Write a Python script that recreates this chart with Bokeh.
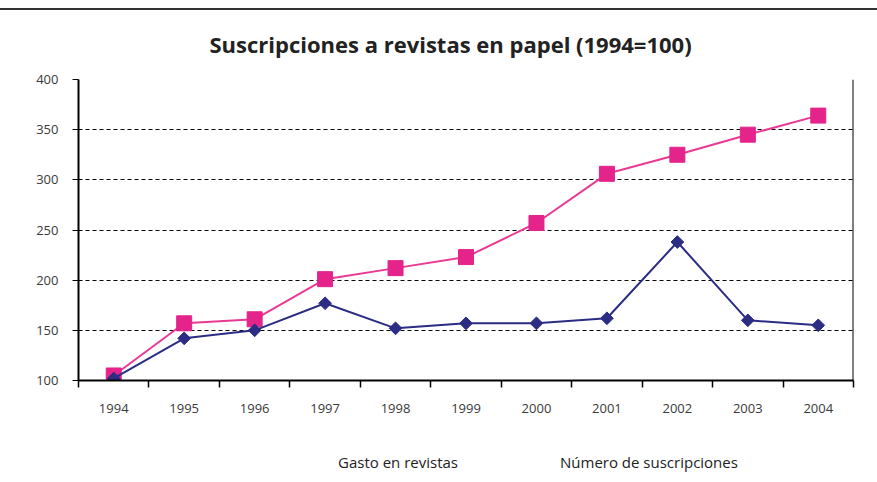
import math
from bokeh.plotting import figure
from bokeh.models import Range1d, FixedTicker, Legend, LegendItem, Span
from bokeh.layouts import column
from bokeh.embed import file_html
from bokeh.resources import INLINE

years = ["1994", "1995", "1996", "1997", "1998", "1999", "2000", "2001", "2002", "2003", "2004"]
gasto = [105, 157, 161, 201, 212, 223, 257, 306, 325, 345, 364]
numero = [102, 142, 150, 177, 152, 157, 157, 162, 238, 160, 155]
y_ticks = [100, 150, 200, 250, 300, 350, 400]
series_names = ["Gasto en revistas", "Número de suscripciones"]

PINK = "#e4238b"
PINK_LINE = "#e83a92"
NAVY = "#2b2d84"
FONT = "Open Sans"

n = len(years)
xs = [i + 0.5 for i in range(n)]

p = figure(width=877, height=413, output_backend="svg", toolbar_location=None,
           x_range=Range1d(0, n), y_range=Range1d(100, 400),
           frame_width=775, frame_height=301,
           min_border_left=78, min_border_right=24, min_border_top=10, min_border_bottom=42)
p.outline_line_color = None
p.background_fill_color = "white"

p.title.text = "Suscripciones a revistas en papel (1994=100)"
p.title.align = "left"
p.title.vertical_align = "top"
p.title.text_font = FONT
p.title.text_font_size = "22px"
p.title.text_font_style = "bold"
p.title.text_color = "#222222"
p.title.offset = 131
p.title.standoff = 37

# x axis: labels at category centres, ticks at category boundaries
xa = p.xaxis[0]
xa.ticker = FixedTicker(ticks=xs, minor_ticks=list(range(n + 1)))
xa.major_label_overrides = {x: y for x, y in zip(xs, years)}
xa.major_tick_line_color = None
xa.major_tick_out = 0
xa.major_tick_in = 0
xa.minor_tick_line_color = "black"
xa.minor_tick_line_width = 1.5
xa.minor_tick_out = 7
xa.minor_tick_in = 0
xa.axis_line_color = "black"
xa.axis_line_width = 2
xa.major_label_standoff = 16
xa.major_label_text_font = FONT
xa.major_label_text_font_size = "13px"
xa.major_label_text_color = "#3a3a3a"

ya = p.yaxis[0]
ya.ticker = FixedTicker(ticks=y_ticks)
ya.major_tick_line_color = "black"
ya.major_tick_out = 6
ya.major_tick_in = 0
ya.minor_tick_line_color = None
ya.axis_line_color = "black"
ya.axis_line_width = 2
ya.major_label_standoff = 14
ya.major_label_text_font = FONT
ya.major_label_text_font_size = "13px"
ya.major_label_text_color = "#3a3a3a"

# right border line of the plot area
p.add_layout(Span(location=n, dimension="height", line_color="black", line_width=2))

p.xgrid.grid_line_color = None
p.ygrid.ticker = FixedTicker(ticks=y_ticks[1:])
p.ygrid.grid_line_color = "black"
p.ygrid.grid_line_dash = "4 3"
p.ygrid.grid_line_width = 1

p.line(xs, gasto, line_color=PINK_LINE, line_width=2)
p.scatter(xs, gasto, marker="square", size=15, fill_color=PINK, line_color=PINK)
p.line(xs, numero, line_color=NAVY, line_width=2)
p.scatter(xs, numero, marker="square", size=9, angle=math.pi / 4,
          fill_color=NAVY, line_color=NAVY)

# legend strip below the chart (key glyphs only, no data drawn)
lg = figure(width=877, height=60, output_backend="svg", toolbar_location=None,
            x_range=Range1d(0, 1), y_range=Range1d(0, 1),
            x_axis_type=None, y_axis_type=None,
            min_border_left=0, min_border_right=0, min_border_top=0, min_border_bottom=0)
lg.outline_line_color = None
k1l = lg.line([], [], line_color=PINK_LINE, line_width=2)
k1m = lg.scatter([], [], marker="square", size=14, fill_color=PINK, line_color=PINK)
k2l = lg.line([], [], line_color=NAVY, line_width=2)
k2m = lg.scatter([], [], marker="diamond", size=14, fill_color=NAVY, line_color=NAVY)

legend = Legend(items=[
    LegendItem(label=series_names[0], renderers=[k1l, k1m]),
    LegendItem(label=series_names[1], renderers=[k2l, k2m]),
], orientation="horizontal", location=(198, 10))
legend.border_line_color = None
legend.background_fill_alpha = 0
legend.label_text_font = FONT
legend.label_text_font_size = "15px"
legend.label_text_color = "#222222"
legend.glyph_width = 50
legend.label_standoff = 12
legend.spacing = 40
legend.margin = 0
legend.padding = 10
lg.add_layout(legend, "center")

layout = column(p, lg, spacing=0,
                styles={"margin-top": "8px", "border-top": "2px solid #333333"})

open("out.html", "w").write(file_html(layout, INLINE))
